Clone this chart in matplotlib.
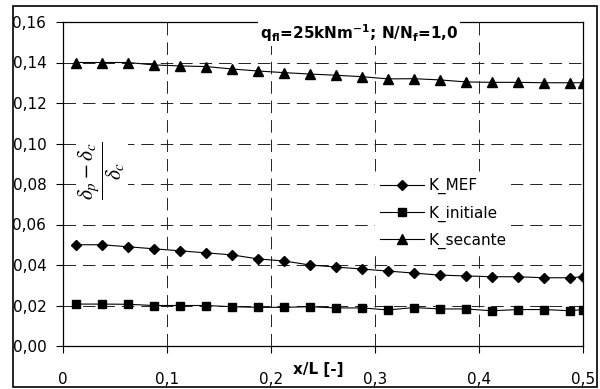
import matplotlib
matplotlib.use("Agg")
import matplotlib.pyplot as plt
from matplotlib.patches import Rectangle
from matplotlib.ticker import FixedLocator, FuncFormatter

plt.rcParams['font.family'] = ['DejaVu Sans']
plt.rcParams['mathtext.fontset'] = 'dejavusans'
plt.rcParams['lines.scale_dashes'] = False

x_vals = [0.0125, 0.0375, 0.0625, 0.0875, 0.1125, 0.1375, 0.1625, 0.1875, 0.2125,
          0.2375, 0.2625, 0.2875, 0.3125, 0.3375, 0.3625, 0.3875, 0.4125, 0.4375,
          0.4625, 0.4875, 0.5]
k_mef = [0.050, 0.050, 0.049, 0.048, 0.047, 0.046, 0.045, 0.043, 0.042,
         0.040, 0.039, 0.038, 0.037, 0.036, 0.035, 0.0346, 0.0342, 0.0342,
         0.0337, 0.0337, 0.0342]
k_initiale = [0.0207, 0.0207, 0.0206, 0.0200, 0.0200, 0.0200, 0.0194, 0.0191, 0.0191,
              0.0194, 0.0188, 0.0188, 0.0178, 0.0190, 0.0183, 0.0183, 0.0174, 0.0180,
              0.0180, 0.0174, 0.0180]
k_secante = [0.140, 0.140, 0.140, 0.1388, 0.1383, 0.1380, 0.1368, 0.1358, 0.1350,
             0.1343, 0.1337, 0.1330, 0.1319, 0.1320, 0.1314, 0.1304, 0.1302, 0.1302,
             0.1300, 0.1300, 0.1300]
labels = ['K_MEF', 'K_initiale', 'K_secante']
x_ticks = [0, 0.1, 0.2, 0.3, 0.4, 0.5]
y_ticks = [0.00, 0.02, 0.04, 0.06, 0.08, 0.10, 0.12, 0.14, 0.16]

fig = plt.figure(figsize=(6.0, 3.89), dpi=100)
ax = fig.add_axes([63/600, 1-346/389, 520/600, 324/389])

ax.plot(x_vals, k_mef, color='black', lw=0.8, marker='D', ms=5, label=labels[0])
ax.plot(x_vals, k_initiale, color='black', lw=0.8, marker='s', ms=5.5, label=labels[1])
ax.plot(x_vals, k_secante, color='black', lw=0.8, marker='^', ms=6.5, label=labels[2])

ax.set_xlim(0, 0.5)
ax.set_ylim(0, 0.16)
ax.xaxis.set_major_locator(FixedLocator(x_ticks))
ax.yaxis.set_major_locator(FixedLocator(y_ticks))
ax.xaxis.set_major_formatter(FuncFormatter(lambda v, p: '0' if v == 0 else ('%.1f' % v).replace('.', ',')))
ax.yaxis.set_major_formatter(FuncFormatter(lambda v, p: ('%.2f' % v).replace('.', ',')))
ax.tick_params(axis='both', direction='out', length=5, width=0.8, labelsize=11, colors='black')
ax.tick_params(axis='x', pad=14)
ax.tick_params(axis='y', pad=7)
ax.grid(True, color='#222222', linestyle=(0, (9, 5)), linewidth=0.7)
for s in ax.spines.values():
    s.set_linewidth(0.9)
    s.set_color('black')

ax.text(0.245, -0.072, 'x/L [-]', transform=ax.get_xaxis_transform(), ha='center', va='center',
        fontsize=11, fontweight='bold')

ax.text(0.569, 0.966, r'q$_{\mathbf{fl}}$=25kNm$^{\mathbf{-1}}$; N/N$_{\mathbf{f}}$=1,0',
        transform=ax.transAxes, ha='center', va='center', fontsize=11, fontweight='bold',
        bbox=dict(facecolor='white', edgecolor='none', pad=1.5), zorder=5)

ax.text(0.075, 0.543, r'$\dfrac{\delta_p-\delta_c}{\delta_c}$', transform=ax.transAxes,
        ha='center', va='center', rotation=90, fontsize=15.5, math_fontfamily='stix',
        bbox=dict(facecolor='white', edgecolor='none', pad=1), zorder=5)

leg = ax.legend(loc='upper left', bbox_to_anchor=(0.6, 0.532), frameon=True, fontsize=11,
                handlelength=2.9, handletextpad=0.3, labelspacing=0.72, borderpad=0.3,
                borderaxespad=0, fancybox=False)
leg.get_frame().set_edgecolor('none')
leg.get_frame().set_facecolor('white')
leg.get_frame().set_alpha(1)

fig.patches.append(Rectangle((13/600, 2/389), 584/600, 381/389, transform=fig.transFigure,
                             fill=False, edgecolor='black', linewidth=1.2))

fig.savefig('out.png', dpi=100)
